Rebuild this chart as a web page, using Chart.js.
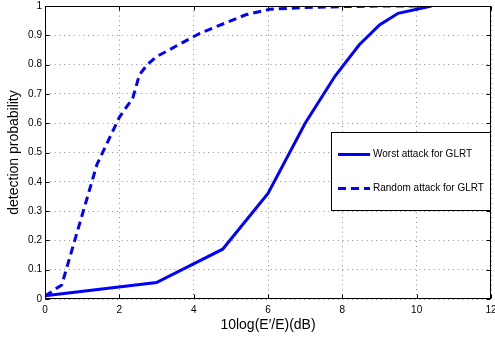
<!DOCTYPE html>
<html>
<head>
<meta charset="utf-8">
<script src="https://cdn.jsdelivr.net/npm/chart.js@4/dist/chart.umd.min.js"></script>
<style>
html,body{margin:0;padding:0;background:#fff;}
#wrap{width:495px;height:338px;position:relative;}
</style>
</head>
<body>
<div id="wrap"><canvas id="c" width="495" height="338"></canvas></div>
<script>
// x values in dB
const worstX = [0, 3, 4.78, 6, 7, 7.8, 8.45, 9, 9.5, 10.4];
const worstY = [0.011, 0.056, 0.17, 0.36, 0.6, 0.76, 0.867, 0.935, 0.975, 1.0];
const randomX = [0, 0.45, 1.4, 2.0, 2.36, 2.54, 2.75, 3.0, 4.17, 5.4, 6.05, 7, 8.06, 9, 10.4];
const randomY = [0.01, 0.048, 0.46, 0.62, 0.685, 0.765, 0.8, 0.827, 0.907, 0.97, 0.989, 0.995, 0.998, 1.0, 1.0];
const xTicks = [0, 2, 4, 6, 8, 10, 12];
const yTicks = [0, 0.1, 0.2, 0.3, 0.4, 0.5, 0.6, 0.7, 0.8, 0.9, 1];
const seriesNames = ['Worst attack for GLRT', 'Random attack for GLRT'];
const xTitle = '10log(E\u2032/E)(dB)';
const yTitle = 'detection probability';

const FONT = 'Liberation Sans, Arial, Helvetica, sans-serif';
const toPts = (xs, ys) => xs.map((x, i) => ({x: x, y: ys[i]}));

const boxPlugin = {
  id: 'boxPlugin',
  afterDraw(chart) {
    const ctx = chart.ctx;
    const a = chart.chartArea;
    const xs = chart.scales.x, ys = chart.scales.y;
    ctx.save();
    ctx.strokeStyle = '#000';
    ctx.lineWidth = 1;
    ctx.setLineDash([]);
    const L = Math.round(a.left) + 0.5, R = Math.round(a.right) - 0.5;
    const T = Math.round(a.top) + 0.5, B = Math.round(a.bottom) - 0.5;
    ctx.strokeRect(L, T, R - L, B - T);
    // inward ticks
    ctx.beginPath();
    xTicks.forEach(v => {
      const p = Math.round(xs.getPixelForValue(v)) + 0.5;
      ctx.moveTo(p, B); ctx.lineTo(p, B - 4);
      ctx.moveTo(p, T); ctx.lineTo(p, T + 4);
    });
    yTicks.forEach(v => {
      const p = Math.round(ys.getPixelForValue(v)) + 0.5;
      ctx.moveTo(L, p); ctx.lineTo(L + 4, p);
      ctx.moveTo(R, p); ctx.lineTo(R - 4, p);
    });
    ctx.stroke();

    // legend box
    const lx = 331.5, ly = 132.5, lw = 159, lh = 78;
    ctx.fillStyle = '#fff';
    ctx.fillRect(lx, ly, lw, lh);
    ctx.strokeRect(lx, ly, lw, lh);
    ctx.font = '10px ' + FONT;
    ctx.textBaseline = 'middle';
    ctx.textAlign = 'left';
    const entries = [
      {y: 154.5, dash: []},
      {y: 188.5, dash: [8, 5]}
    ];
    entries.forEach((e, i) => {
      ctx.strokeStyle = '#0000ff';
      ctx.lineWidth = 3;
      ctx.setLineDash(e.dash);
      ctx.beginPath();
      ctx.moveTo(338, e.y); ctx.lineTo(370, e.y);
      ctx.stroke();
      ctx.setLineDash([]);
      ctx.fillStyle = '#000';
      ctx.fillText(seriesNames[i], 373, e.y);
    });
    ctx.restore();
  }
};

new Chart(document.getElementById('c'), {
  type: 'line',
  data: {
    datasets: [
      {label: seriesNames[0], data: toPts(worstX, worstY), borderColor: '#0000ff', borderWidth: 3, pointRadius: 0, tension: 0, fill: false},
      {label: seriesNames[1], data: toPts(randomX, randomY), borderColor: '#0000ff', borderWidth: 3, borderDash: [8, 5], pointRadius: 0, tension: 0, fill: false}
    ]
  },
  options: {
    responsive: false,
    animation: false,
    devicePixelRatio: 1,
    layout: {autoPadding: false, padding: {left: 0, right: 4, top: 6, bottom: 0}},
    plugins: {legend: {display: false}, tooltip: {enabled: false}},
    scales: {
      x: {
        type: 'linear', min: 0, max: 12,
        afterBuildTicks: s => { s.ticks = xTicks.map(v => ({value: v})); },
        afterFit: s => { s.height = 39; s.paddingLeft = 0; s.paddingRight = 0; },
        ticks: {color: '#000', font: {size: 10, family: FONT}, padding: 5, maxRotation: 0, autoSkip: false},
        grid: {color: 'rgba(0,0,0,0.45)', lineWidth: 1, drawTicks: false},
        border: {display: false, dash: [1, 3.8]},
        title: {display: true, text: xTitle, color: '#000', font: {size: 14, family: FONT}, padding: {top: 0, bottom: 4}}
      },
      y: {
        type: 'linear', min: 0, max: 1,
        afterBuildTicks: s => { s.ticks = yTicks.map(v => ({value: v})); },
        afterFit: s => { s.width = 45; s.paddingTop = 0; s.paddingBottom = 0; },
        ticks: {color: '#000', font: {size: 10, family: FONT}, padding: 3, autoSkip: false,
          callback: v => String(Math.round(v * 10) / 10)},
        grid: {color: 'rgba(0,0,0,0.45)', lineWidth: 1, drawTicks: false},
        border: {display: false, dash: [1, 3.8]},
        title: {display: true, text: yTitle, color: '#000', font: {size: 14, family: FONT}, padding: {top: 6, bottom: 0}}
      }
    }
  },
  plugins: [boxPlugin]
});
</script>
</body>
</html>
